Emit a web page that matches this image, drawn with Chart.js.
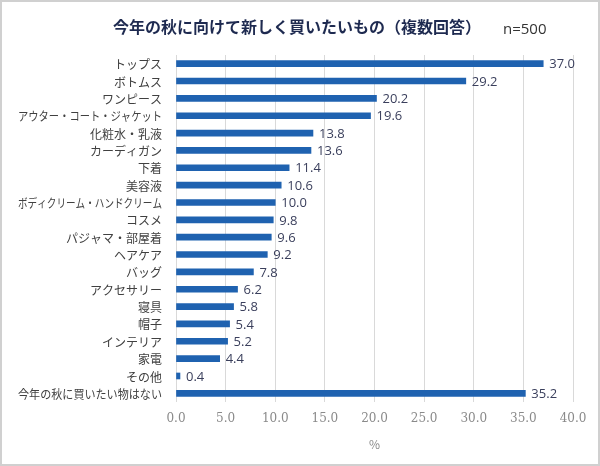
<!DOCTYPE html>
<html>
<head>
<meta charset="utf-8">
<script src="https://cdn.jsdelivr.net/npm/chart.js@4"></script>
<style>
  html, body { margin: 0; padding: 0; background: #fff; }
  #wrap { width: 600px; height: 466px; position: relative; }
</style>
</head>
<body>
<div id="wrap"><canvas id="chart"></canvas></div>
<script>
// Categories and values (%)
const categories = [
    'トップス', 'ボトムス', 'ワンピース', 'アウター・コート・ジャケット',
    '化粧水・乳液', 'カーディガン', '下着', '美容液',
    'ボディクリーム・ハンドクリーム', 'コスメ', 'パジャマ・部屋着', 'ヘアケア',
    'バッグ', 'アクセサリー', '寝具', '帽子', 'インテリア', '家電', 'その他',
    '今年の秋に買いたい物はない'
];
const values = [
    37.0, 29.2, 20.2, 19.6, 13.8, 13.6, 11.4, 10.6, 10.0, 9.8,
    9.6, 9.2, 7.8, 6.2, 5.8, 5.4, 5.2, 4.4, 0.4, 35.2
];
const xTicks = [0, 5, 10, 15, 20, 25, 30, 35, 40];

const chartTitle = '今年の秋に向けて新しく買いたいもの（複数回答）';
const sampleNote = 'n=500';

const jpFont = '"Noto Sans CJK JP", "Noto Sans", sans-serif';

// Background, frame, title, category labels and value labels
const decorPlugin = {
    id: 'decor',
    beforeDraw(chart) {
        const ctx = chart.ctx;
        ctx.save();
        ctx.fillStyle = '#ffffff';
        ctx.fillRect(0, 0, chart.width, chart.height);
        ctx.strokeStyle = '#d0d0d0';
        ctx.lineWidth = 2;
        ctx.strokeRect(1, 1, chart.width - 2, chart.height - 2);
        ctx.restore();
    },
    afterDraw(chart) {
        const ctx = chart.ctx;
        const yScale = chart.scales.y;
        ctx.save();
        // title
        ctx.fillStyle = '#1e2a50';
        ctx.font = 'bold 16px ' + jpFont;
        ctx.textAlign = 'center';
        ctx.textBaseline = 'middle';
        ctx.fillText(chartTitle, 297, 27);
        ctx.fillStyle = '#333333';
        ctx.font = '15px "Open Sans", "DejaVu Sans", sans-serif';
        ctx.textAlign = 'left';
        ctx.fillText(sampleNote, 503, 30);

        // category labels (narrow like the original font)
        ctx.fillStyle = '#404040';
        ctx.font = '12px ' + jpFont;
        ctx.textAlign = 'right';
        categories.forEach((label, i) => {
            const y = yScale.getPixelForTick(i);
            ctx.fillText(label, chart.chartArea.left - 14, y + 1, 144);
        });

        // value labels at bar ends
        const meta = chart.getDatasetMeta(0);
        ctx.fillStyle = '#3a3f5c';
        ctx.font = '13px "Open Sans", "DejaVu Sans", sans-serif';
        ctx.textAlign = 'left';
        meta.data.forEach((bar, i) => {
            ctx.fillText(values[i].toFixed(1), bar.x + 6, bar.y + 1);
        });
        ctx.restore();
    }
};

const ctx = document.getElementById('chart').getContext('2d');
new Chart(ctx, {
    type: 'bar',
    data: {
        labels: categories,
        datasets: [{
            data: values,
            backgroundColor: '#1f62b0',
            barThickness: 6
        }]
    },
    options: {
        indexAxis: 'y',
        responsive: true,
        maintainAspectRatio: false,
        animation: false,
        layout: {
            padding: { top: 55, right: 27, bottom: 14, left: 0 }
        },
        plugins: {
            legend: { display: false },
            tooltip: { enabled: false }
        },
        scales: {
            x: {
                min: 0,
                max: 40,
                afterBuildTicks: axis => {
                    axis.ticks = xTicks.map(v => ({ value: v }));
                },
                afterFit: axis => { axis.height = 50; },
                grid: {
                    color: '#d9d9d9',
                    drawTicks: false
                },
                border: { display: false },
                ticks: {
                    padding: 10,
                    color: '#8a8a8a',
                    font: { family: '"DejaVu Serif", "Liberation Serif", serif', size: 12 },
                    callback: value => value.toFixed(1)
                },
                title: {
                    display: true,
                    text: '%',
                    color: '#8a8a8a',
                    font: { family: jpFont, size: 12 },
                    padding: { top: 0, bottom: 0 }
                }
            },
            y: {
                afterFit: axis => { axis.width = 176; },
                grid: { display: false },
                border: { display: false },
                ticks: { display: false }
            }
        }
    },
    plugins: [decorPlugin]
});
</script>
</body>
</html>
